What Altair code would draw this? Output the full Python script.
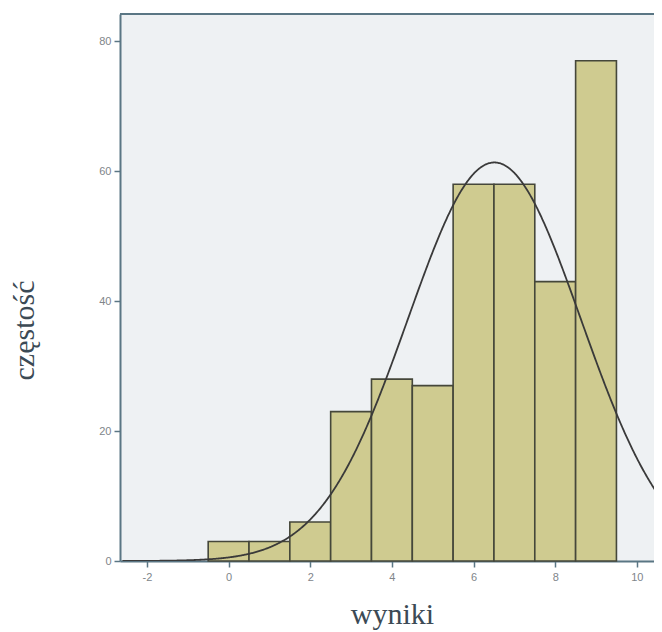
import altair as alt
import pandas as pd

# ---- data ----
bin_centers = [0, 1, 2, 3, 4, 5, 6, 7, 8, 9]
counts = [3, 3, 6, 23, 28, 27, 58, 58, 43, 77]
x_ticks = [-2, 0, 2, 4, 6, 8, 10]
y_ticks = [0, 20, 40, 60, 80]
# fitted normal curve parameters (from the histogram: N, mean, sd)
fit_n = 326
fit_mean = 6.51
fit_sd = 2.12
bin_width = 1

X_DOMAIN = [-2.66, 10.42]
Y_DOMAIN = [0, 84.2]
W, H = 534, 547

axis_color = "#5a7684"
label_color = "#80858a"
title_color = "#3c4a55"

bars_df = pd.DataFrame({"center": bin_centers, "count": counts})

xscale = alt.Scale(domain=X_DOMAIN, nice=False, zero=False)
yscale = alt.Scale(domain=Y_DOMAIN, nice=False)

x_axis = alt.Axis(
    values=x_ticks, title="wyniki", titleX=272, titleY=62,
    titleAlign="center", titleBaseline="alphabetic", labelPadding=4,
    labelExpr="replace(datum.label, '\u2212', '-')",
)
y_axis = alt.Axis(
    values=y_ticks, title="częstość", titleAngle=270, titleX=-87, titleY=316,
    titleAlign="center", titleBaseline="alphabetic", labelPadding=3,
)

bars = alt.Chart(bars_df).transform_calculate(
    x0=f"datum.center - {bin_width}/2", x1=f"datum.center + {bin_width}/2"
).mark_bar(fill="#cfcb90", stroke="#45473a", strokeWidth=1.6).encode(
    x=alt.X("x0:Q", scale=xscale, axis=x_axis),
    x2="x1:Q",
    y=alt.Y("count:Q", scale=yscale, axis=y_axis),
    y2=alt.datum(0),
)

curve = alt.Chart(alt.sequence(-2.6, 10.45, 0.02, as_="v")).transform_calculate(
    dens=f"{fit_n}*{bin_width}*exp(-0.5*pow((datum.v-{fit_mean})/{fit_sd},2))/({fit_sd}*sqrt(2*PI))"
).mark_line(color="#3a3a3a", strokeWidth=1.8, clip=True).encode(
    x=alt.X("v:Q", scale=xscale),
    y=alt.Y("dens:Q", scale=yscale),
)

top_border = alt.Chart(pd.DataFrame({"a": [0]})).mark_rule(
    color=axis_color, strokeWidth=2
).encode(x=alt.value(0), x2=alt.value(W), y=alt.value(0))

chart = alt.layer(bars, curve, top_border).properties(
    width=W, height=H,
    autosize=alt.AutoSizeParams(type="none"),
    padding={"left": 112, "top": 6, "right": 0, "bottom": 70},
    background="white",
).configure_view(
    fill="#eef1f3", strokeOpacity=0,
).configure_axis(
    grid=False,
    domainColor=axis_color, domainWidth=2,
    tickColor=axis_color, tickSize=6, tickWidth=1.5,
    labelColor=label_color, labelFont="Liberation Sans", labelFontSize=11,
    titleFont="Liberation Serif", titleFontSize=30, titleFontWeight="normal",
    titleColor=title_color,
)

chart.save("out.html", embed_options={"renderer": "svg", "actions": False})
